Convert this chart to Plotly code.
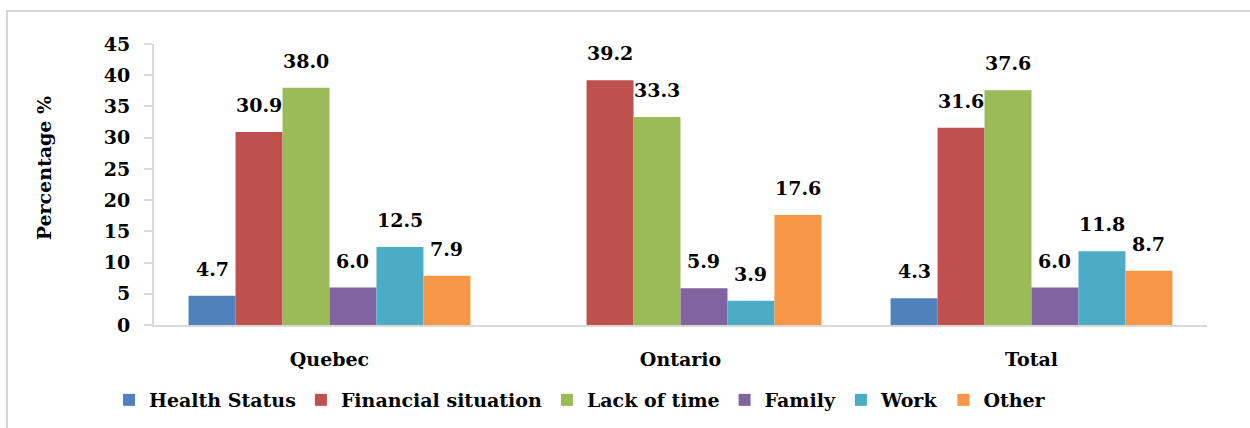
import plotly.graph_objects as go

regions = ["Quebec", "Ontario", "Total"]
reasons = ["Health Status", "Financial situation", "Lack of time", "Family", "Work", "Other"]
health_status = [4.7, None, 4.3]
financial_situation = [30.9, 39.2, 31.6]
lack_of_time = [38.0, 33.3, 37.6]
family = [6.0, 5.9, 6.0]
work = [12.5, 3.9, 11.8]
other = [7.9, 17.6, 8.7]
y_ticks = [0, 5, 10, 15, 20, 25, 30, 35, 40, 45]

series = [health_status, financial_situation, lack_of_time, family, work, other]
colors = ["#4F81BD", "#C0504D", "#9BBB59", "#8064A2", "#4BACC6", "#F79646"]

FONT = "DejaVu Serif"
BARGAP = 0.197
n = len(series)
bar_w = (1 - BARGAP) / n

fig = go.Figure()
annotations = []
for i, (name, vals, col) in enumerate(zip(reasons, series, colors)):
    fig.add_trace(go.Bar(
        name=name, x=regions, y=vals, marker=dict(color=col, line=dict(width=0)),
    ))
    offset = -(1 - BARGAP) / 2 + (i + 0.5) * bar_w
    for k, v in enumerate(vals):
        if v is None:
            continue
        annotations.append(dict(
            x=k + offset, y=v, xref="x", yref="y", text=f"<b>{v:.1f}</b>",
            showarrow=False, yanchor="bottom", yshift=14,
            font=dict(family=FONT, size=19, color="black"),
        ))

# rotated y-axis title
annotations.append(dict(
    x=-0.105, y=0.559, xref="paper", yref="paper", xanchor="center", yanchor="middle",
    text="<b>Percentage %</b>", textangle=-90, showarrow=False,
    font=dict(family=FONT, size=19, color="black"),
))

fig.update_layout(
    width=1250, height=428,
    margin=dict(l=154, r=43, t=44, b=103, autoexpand=False),
    paper_bgcolor="white", plot_bgcolor="white",
    barmode="group", bargap=BARGAP, bargroupgap=0,
    font=dict(family=FONT, size=19, color="black"),
    showlegend=True,
    legend=dict(
        orientation="h", xref="container", yref="container",
        x=0.0872, xanchor="left", y=0.0654, yanchor="middle",
        font=dict(family=FONT, size=19, color="black", weight="bold"),
        itemwidth=30, tracegroupgap=0, bgcolor="rgba(0,0,0,0)",
    ),
    annotations=annotations,
    shapes=[dict(
        type="rect", xref="paper", yref="paper",
        x0=-0.1396, y0=-0.40, x1=1.05, y1=1.1174,
        line=dict(color="#c8c8c8", width=1.5), fillcolor="rgba(0,0,0,0)", layer="below",
    )],
)

fig.update_xaxes(
    showline=True, linecolor="#d9d9d9", linewidth=2, ticks="", showgrid=False,
    tickfont=dict(family=FONT, size=19, color="black", weight="bold"),
    ticklabelstandoff=16,
)
fig.update_yaxes(
    range=[0, 45], tickvals=y_ticks, showline=True, linecolor="#d9d9d9", linewidth=2,
    ticks="outside", ticklen=8, tickcolor="#d9d9d9", tickwidth=2, showgrid=False,
    zeroline=False,
    tickfont=dict(family=FONT, size=19, color="black", weight="bold"),
    ticklabelstandoff=10,
)

fig.write_html("out.html")
